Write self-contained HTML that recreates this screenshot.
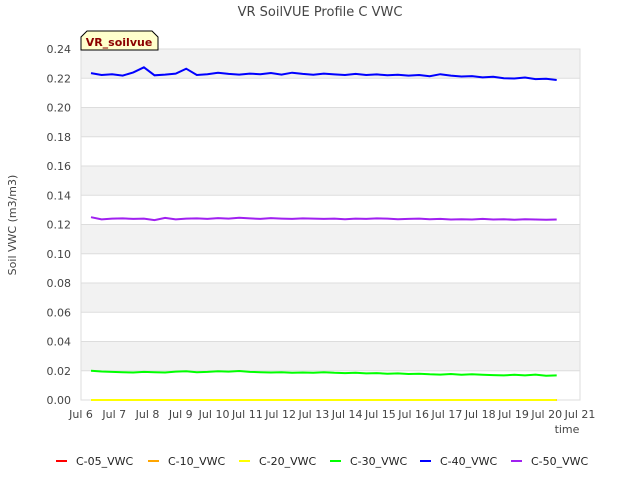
<!DOCTYPE html>
<html><head><meta charset="utf-8"><style>
body{margin:0;background:#fff;font-family:"Liberation Sans","DejaVu Sans",sans-serif;}
svg text{font-family:"DejaVu Sans","Liberation Sans",sans-serif;}
</style></head><body>
<svg id="c" width="640" height="480" xmlns="http://www.w3.org/2000/svg">
<text x="320" y="16" text-anchor="middle" font-size="13" fill="#444">VR SoilVUE Profile C VWC</text>
<g id="grid"></g>
<g id="series"></g>
<g id="axes"></g>
<text x="16" y="225" transform="rotate(-90 16 225)" text-anchor="middle" font-size="11" fill="#444">Soil VWC (m3/m3)</text>
<text x="567" y="433" text-anchor="middle" font-size="11" fill="#444">time</text>
<g>
<path d="M81,50 L81,37 L87,31 L152,31 L158,37 L158,50 Z" fill="#ffffcc" stroke="#000" stroke-width="1"/>
<text x="119" y="46" text-anchor="middle" font-size="11" font-weight="bold" fill="#8b0000">VR_soilvue</text>
</g>
<g id="legend"></g>
</svg>
<script>
const yTicks=[0,0.02,0.04,0.06,0.08,0.10,0.12,0.14,0.16,0.18,0.20,0.22,0.24];
const xTickLabels=["Jul 6","Jul 7","Jul 8","Jul 9","Jul 10","Jul 11","Jul 12","Jul 13","Jul 14","Jul 15","Jul 16","Jul 17","Jul 18","Jul 19","Jul 20","Jul 21"];
const seriesNames=["C-05_VWC","C-10_VWC","C-20_VWC","C-30_VWC","C-40_VWC","C-50_VWC"];
const seriesColors=["#ff0000","#ffa500","#ffff00","#00ff00","#0000ff","#a020f0"];
const c40=[0.2235,0.2222,0.2228,0.2218,0.2240,0.2275,0.2220,0.2225,0.2232,0.2265,0.2222,0.2228,0.2238,0.2230,0.2225,0.2232,0.2228,0.2236,0.2225,0.2238,0.2230,0.2224,0.2232,0.2226,0.2222,0.2230,0.2222,0.2226,0.2220,0.2224,0.2218,0.2222,0.2214,0.2228,0.2218,0.2212,0.2215,0.2206,0.2210,0.2200,0.2198,0.2205,0.2194,0.2196,0.2188];
const c50=[0.1250,0.1235,0.1240,0.1242,0.1238,0.1240,0.1230,0.1245,0.1235,0.1240,0.1242,0.1238,0.1244,0.1240,0.1246,0.1242,0.1238,0.1244,0.1240,0.1238,0.1242,0.1240,0.1238,0.1240,0.1236,0.1240,0.1238,0.1242,0.1240,0.1236,0.1238,0.1240,0.1236,0.1238,0.1234,0.1236,0.1234,0.1238,0.1234,0.1236,0.1232,0.1236,0.1234,0.1232,0.1234];
const c30=[0.0200,0.0195,0.0192,0.0190,0.0188,0.0192,0.0190,0.0188,0.0194,0.0196,0.0190,0.0192,0.0196,0.0194,0.0198,0.0192,0.0190,0.0188,0.0190,0.0186,0.0188,0.0186,0.0190,0.0186,0.0184,0.0186,0.0182,0.0184,0.0180,0.0182,0.0178,0.0180,0.0176,0.0174,0.0178,0.0172,0.0176,0.0172,0.0170,0.0168,0.0172,0.0168,0.0174,0.0166,0.0168];
const c0=[0,0];
const tStart=6.3, tEnd=20.3;
const X0=81,X1=580,Y0=400,Y1=49;
const xs=d=>X0+(d-6)/(21-6)*(X1-X0);
const ys=v=>Y0-(v-0)/(0.24)*(Y0-Y1);
const NS="http://www.w3.org/2000/svg";
function mk(tag,attrs,parent){const e=document.createElementNS(NS,tag);for(const k in attrs)e.setAttribute(k,attrs[k]);parent.appendChild(e);return e;}
const grid=document.getElementById('grid'),axes=document.getElementById('axes'),ser=document.getElementById('series'),leg=document.getElementById('legend');
for(let i=0;i<yTicks.length-1;i++){
  if(i%2===1){const r=mk('rect',{x:X0,y:ys(yTicks[i+1]),width:X1-X0,height:ys(yTicks[i])-ys(yTicks[i+1]),fill:'#f2f2f2'},grid);
  
  }
}
yTicks.forEach(v=>{
  const l=mk('line',{x1:X0,x2:X1,y1:ys(v),y2:ys(v),stroke:'#dddddd'},grid);
  
  
  const t=mk('text',{x:X0-10,y:ys(v)+4,'text-anchor':'end','font-size':11,fill:'#444'},axes);
  t.textContent=v.toFixed(2);
  
  
});
mk('rect',{x:X0,y:Y1,width:X1-X0,height:Y0-Y1,fill:'none',stroke:'#dddddd'},grid);
xTickLabels.forEach((s,i)=>{
  const t=mk('text',{x:xs(6+i),y:Y0+18,'text-anchor':'middle','font-size':11,fill:'#444'},axes);
  t.textContent=s;
  
  
});
function line(arr,color,name){
  const n=arr.length;
  const pts=arr.map((v,i)=>xs(tStart+(tEnd-tStart)*i/(n-1)).toFixed(1)+','+ys(v).toFixed(1)).join(' ');
  const p=mk('polyline',{points:pts,fill:'none',stroke:color,'stroke-width':2},ser);
  
  
}
line(c0,seriesColors[0],'series-c05');
line(c0,seriesColors[1],'series-c10');
line(c0,seriesColors[2],'series-c20');
line(c30,seriesColors[3],'series-c30');
line(c40,seriesColors[4],'series-c40');
line(c50,seriesColors[5],'series-c50');
const lx=[56,148,239,330,420,511];
seriesNames.forEach((s,i)=>{
  const g=mk('g',{},leg);
  
  
  mk('line',{x1:lx[i],x2:lx[i]+11,y1:461,y2:461,stroke:seriesColors[i],'stroke-width':2},g);
  const t=mk('text',{x:lx[i]+20,y:465,'font-size':11,fill:'#222'},g);
  t.textContent=s;
});
</script>
</body></html>
